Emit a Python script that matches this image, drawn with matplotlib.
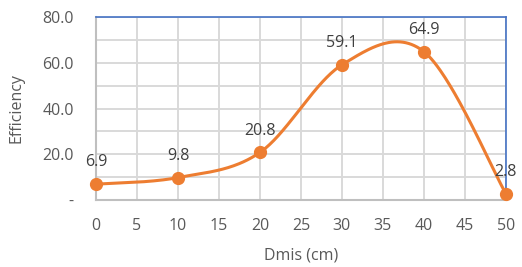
import numpy as np
import matplotlib
matplotlib.use("Agg")
import matplotlib.pyplot as plt

dmis = [0, 10, 20, 30, 40, 50]
efficiency = [6.9, 9.8, 20.8, 59.1, 64.9, 2.8]
x_ticks = list(range(0, 55, 5))
y_ticks = [0, 20, 40, 60, 80]
y_labels = ['-', '20.0', '40.0', '60.0', '80.0']

plt.rcParams['font.family'] = ['Open Sans', 'DejaVu Sans']


def smooth(xs, ys, n=60):
    # excel-like smoothed line: bezier segments with catmull-rom control points
    p = np.column_stack([xs, ys]).astype(float)
    out = []
    for i in range(len(p) - 1):
        p0 = p[i - 1] if i > 0 else p[i]
        p1, p2 = p[i], p[i + 1]
        p3 = p[i + 2] if i + 2 < len(p) else p[i + 1]
        c1 = p1 + (p2 - p0) / 6
        c2 = p2 - (p3 - p1) / 6
        t = np.linspace(0, 1, n)[:, None]
        seg = (1 - t) ** 3 * p1 + 3 * (1 - t) ** 2 * t * c1 + 3 * (1 - t) * t ** 2 * c2 + t ** 3 * p2
        out.append(seg)
    out = np.vstack(out)
    return out[:, 0], out[:, 1]


fig = plt.figure(figsize=(5.22, 2.67), dpi=100)
ax = fig.add_axes([0.184, 0.251, 0.785, 0.685])

sx, sy = smooth(dmis, efficiency)
ax.plot(sx, sy, color='#ED7D31', lw=2.2, zorder=3, clip_on=False)
ax.plot(dmis, efficiency, 'o', color='#ED7D31', ms=8.5, zorder=4, clip_on=False)

for x, y in zip(dmis, efficiency):
    ax.annotate(f'{y:.1f}', (x, y), xytext=(0, 10), textcoords='offset points',
                ha='center', va='bottom', fontsize=11.5, color='#404040')

ax.set_xlim(0, 50)
ax.set_ylim(0, 80)
ax.set_xticks(x_ticks)
ax.set_yticks(y_ticks)
ax.set_yticklabels(y_labels)
ax.set_yticks([10, 30, 50, 70], minor=True)
ax.grid(True, which='both', color='#d9d9d9', lw=1.4)
ax.set_axisbelow(True)
ax.tick_params(which='both', length=0, labelsize=11.5, labelcolor='#595959')
ax.tick_params(axis='x', pad=13)
ax.tick_params(axis='y', pad=16)

for s in ['left', 'bottom']:
    ax.spines[s].set_color('#bfbfbf')
    ax.spines[s].set_linewidth(1.5)
for s in ['top', 'right']:
    ax.spines[s].set_color('#4472C4')
    ax.spines[s].set_linewidth(1.2)

ax.set_xlabel('Dmis (cm)', fontsize=11.5, color='#595959', labelpad=10)
ax.set_ylabel('Efficiency', fontsize=11.5, color='#595959', labelpad=13)

fig.savefig('out.png', dpi=100)
